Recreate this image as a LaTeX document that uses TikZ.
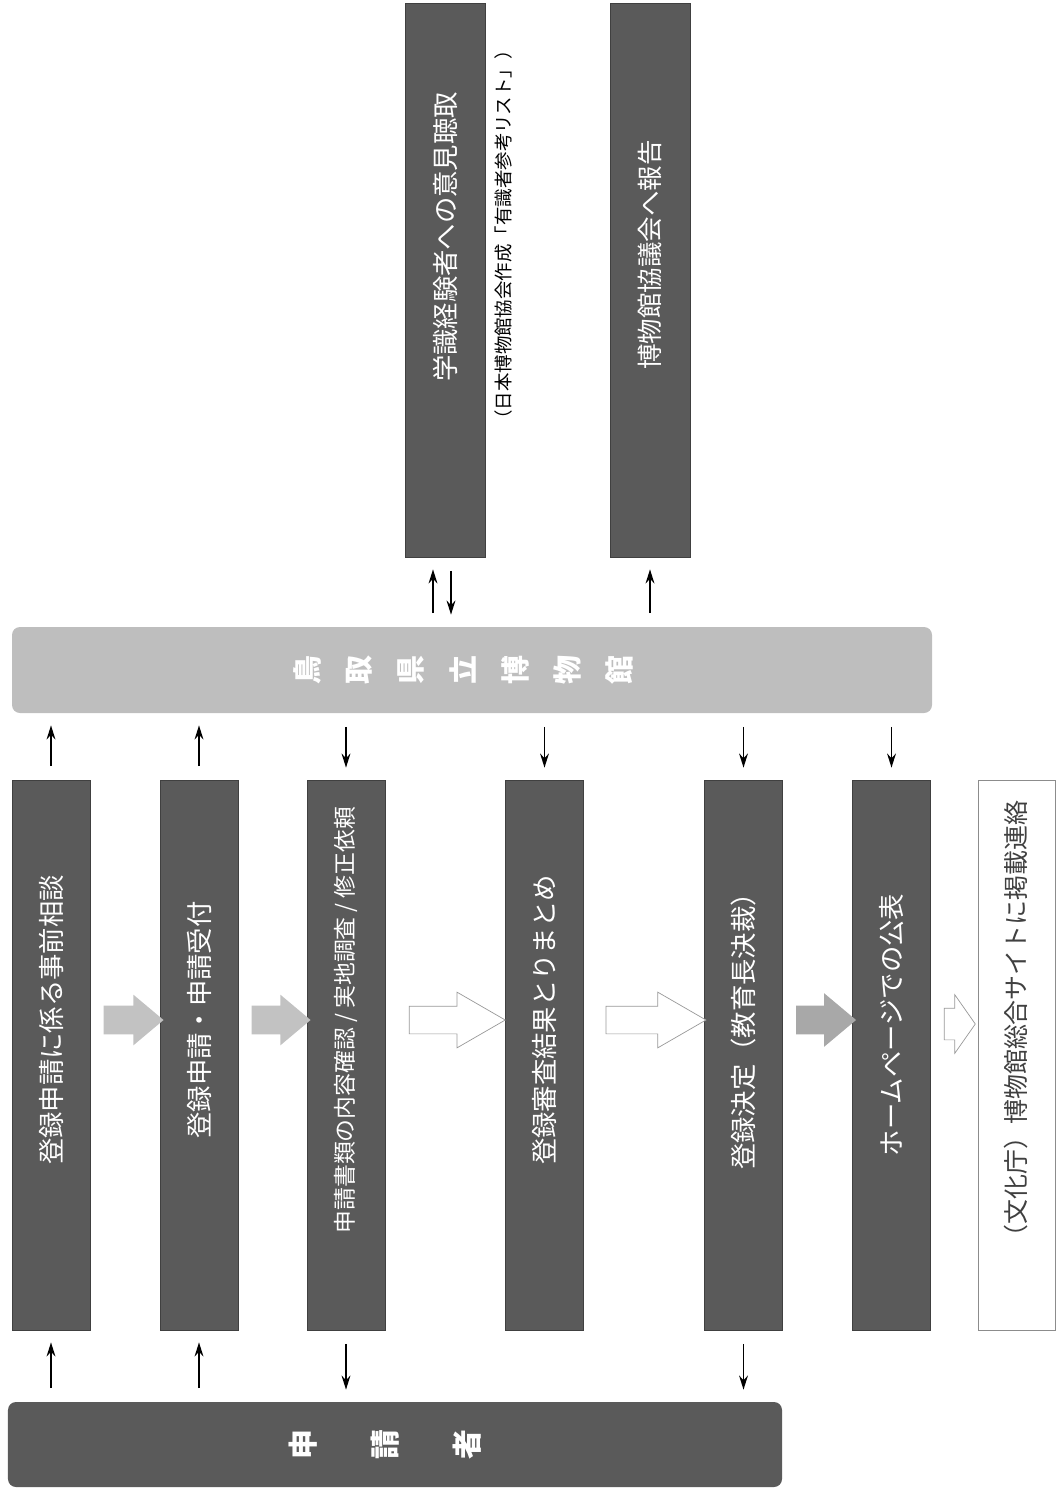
\documentclass[tikz,border=0pt]{standalone}
\usepackage{fontspec}
\newfontfamily\jp{Noto Sans CJK JP}
\usetikzlibrary{arrows.meta,shapes.arrows,calc}
\definecolor{boxgray}{HTML}{5A5A5A}
\definecolor{bargray}{HTML}{BEBEBE}
\definecolor{arrowgray}{HTML}{C2C2C2}
\definecolor{arrowdark}{HTML}{A8A8A8}
\definecolor{textgray}{HTML}{404040}

\begin{document}
\begin{tikzpicture}[
  stepbox/.style={rectangle, fill=boxgray, draw=black!75, line width=0.4pt, minimum width=1.56cm, minimum height=11cm, inner sep=0pt},
  topbox/.style={stepbox, minimum width=1.6cm, minimum height=11.08cm},
  steptext/.style={rotate=90, text=white, inner sep=0pt, font=\jp\fontsize{15}{18}\selectfont},
  bartext/.style={rotate=90, text=white, inner sep=0pt, font=\jp\bfseries\fontsize{16.5}{18}\selectfont},
  flow/.style={-{Stealth[length=8pt,width=5pt]}, line width=1.1pt, shorten <=0.27cm, shorten >=0.24cm},
  blockarrow/.style={single arrow, inner xsep=0pt, inner ysep=0.28cm, single arrow head extend=0.22cm, single arrow tip angle=80},
  openarrow/.style={blockarrow, fill=white, draw=black!40, line width=0.4pt, inner ysep=0.27cm, single arrow head extend=0.28cm, single arrow tip angle=60}
]
\useasboundingbox (0,0) rectangle (21.16,-29.84);

\node[topbox] (t1) at (8.9,-5.6) {};
\node[topbox] (t2) at (13.0,-5.6) {};
\node[steptext] (t1t) at ($(t1.center)+(0,0.86)$) {学識経験者への意見聴取};
\node[rotate=90, inner sep=0pt, font=\jp\fontsize{10.5}{12}\selectfont] (t1c) at ($(t1.east)+(0.36,0.9)$) {（日本博物館協会作成「有識者参考リスト」）};
\node[steptext, font=\jp\fontsize{14.5}{17}\selectfont] (t2t) at ($(t2.center)+(0,0.5)$) {博物館協議会へ報告};

\node[rectangle, rounded corners=0.16cm, fill=bargray, minimum width=18.4cm, minimum height=1.72cm] (mus) at (9.44,-13.4) {};
\foreach \c [count=\i] in {鳥,取,県,立,博,物,館}
  \node[bartext] (m\i) at ($(mus.center)+({(\i-4)*1.04-0.18},0)$) {\c};

\node[stepbox] (s1) at (1.02,-21.1) {};
\node[stepbox] (s2) at (3.98,-21.1) {};
\node[stepbox] (s3) at (6.92,-21.1) {};
\node[stepbox] (s4) at (10.89,-21.1) {};
\node[stepbox] (s5) at (14.87,-21.1) {};
\node[stepbox] (s6) at (17.83,-21.1) {};
\node[stepbox, fill=white, draw=black!45, minimum width=1.54cm] (s7) at (20.33,-21.1) {};
\node[steptext] (s1t) at ($(s1.center)+(0,0.7)$) {登録申請に係る事前相談};
\node[steptext] (s2t) at ($(s2.center)+(0,0.7)$) {登録申請・申請受付};
\node[steptext, font=\jp\fontsize{13}{16}\selectfont] (s3t) at ($(s3.center)+(0,0.7)$) {申請書類の内容確認 / 実地調査 / 修正依頼};
\node[steptext] (s4t) at ($(s4.center)+(0,0.7)$) {登録審査結果とりまとめ};
\node[steptext] (s5t) at ($(s5.center)+(0,0.6)$) {登録決定（教育長決裁）};
\node[steptext] (s6t) at ($(s6.center)+(0,0.6)$) {ホームページでの公表};
\node[steptext, text=textgray, font=\jp\fontsize{14.2}{17}\selectfont] (s7t) at ($(s7.center)+(0,0.6)$) {（文化庁）博物館総合サイトに掲載連絡};

\node[blockarrow, fill=arrowgray, minimum height=1.2cm] (a1) at ($(s1.east)!.5!(s2.west)+(0,0.7)$) {};
\node[blockarrow, fill=arrowgray, minimum height=1.18cm] (a2) at ($(s2.east)!.5!(s3.west)+(0,0.7)$) {};
\node[openarrow, minimum height=1.92cm] (a3) at ($(s3.east)!.5!(s4.west)+(0,0.7)$) {};
\node[openarrow, minimum height=2.0cm] (a4) at ($(s4.east)!.5!(s5.west)+(0,0.7)$) {};
\node[blockarrow, fill=arrowdark, minimum height=1.2cm, single arrow head extend=0.25cm] (a5) at ($(s5.east)!.5!(s6.west)+(0,0.7)$) {};
\node[openarrow, minimum height=0.62cm, inner ysep=0.31cm, single arrow head extend=0.27cm, single arrow tip angle=110] (a6) at ($(s6.east)!.5!(s7.west)+(0,0.62)$) {};

\node[rectangle, rounded corners=0.16cm, fill=boxgray, minimum width=15.48cm, minimum height=1.7cm] (app) at (7.9,-28.89) {};
\foreach \c [count=\i] in {申,請,者}
  \node[bartext, font=\jp\bfseries\fontsize{17}{19}\selectfont] (p\i) at ($(app.center)+({(\i-2)*1.64-0.2},0)$) {\c};

\draw[flow] ($(t1.south |- mus.north)+(-0.24,0)$) -- ($(t1.south)+(-0.24,0)$);
\draw[flow] ($(t1.south)+(0.12,0)$) -- ($(t1.south |- mus.north)+(0.12,0)$);
\draw[flow] (t2.south |- mus.north) -- (t2.south);

\draw[flow] (s1.north) -- (s1.north |- mus.south);
\draw[flow] (s2.north) -- (s2.north |- mus.south);
\draw[flow] (s3.north |- mus.south) -- (s3.north);
\draw[flow] (s4.north |- mus.south) -- (s4.north);
\draw[flow] (s5.north |- mus.south) -- (s5.north);
\draw[flow] (s6.north |- mus.south) -- (s6.north);

\draw[flow] (s1.south |- app.north) -- (s1.south);
\draw[flow] (s2.south |- app.north) -- (s2.south);
\draw[flow] (s3.south) -- (s3.south |- app.north);
\draw[flow] (s5.south) -- (s5.south |- app.north);
\end{tikzpicture}
\end{document}
